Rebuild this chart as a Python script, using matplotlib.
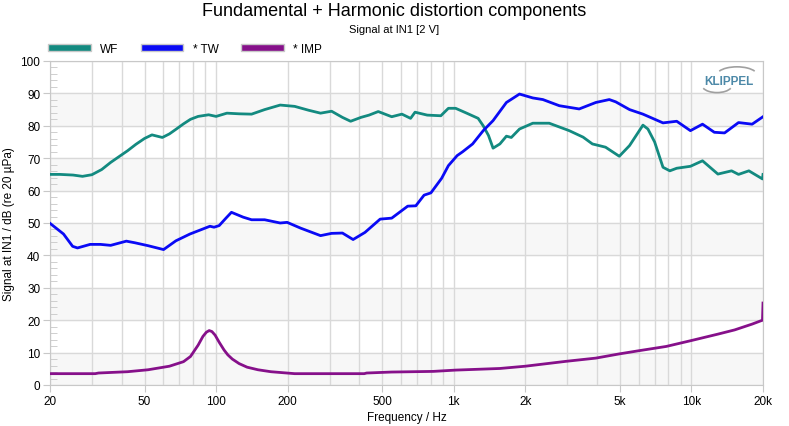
import numpy as np
import matplotlib.pyplot as plt
from matplotlib.patches import Patch, Arc
from matplotlib.ticker import FixedLocator, NullFormatter, MultipleLocator

plt.rcParams['font.family'] = ['Liberation Sans', 'DejaVu Sans']

# WF (woofer) fundamental
wf_f = [20, 22, 25, 27.4, 30, 33, 36, 42.4, 46, 50, 53.7, 59.4, 63.6, 68, 72.9, 78, 84, 93,
        100, 111, 125, 141, 160, 186, 214, 245, 275, 306, 340, 368, 407, 440, 481, 548, 605,
        658, 687, 773, 882, 949, 1018, 1133, 1266, 1330, 1400, 1463, 1563, 1665, 1746, 1890,
        2150, 2520, 3060, 3500, 3830, 4350, 4970, 5490, 6250, 6560, 7000, 7590, 8110, 8670,
        9900, 11130, 12920, 14750, 15780, 17440, 19900, 20000]
wf_db = [65.0, 65.0, 64.8, 64.4, 64.9, 66.5, 68.7, 72.3, 74.3, 76.1, 77.2, 76.4, 77.5, 79.0,
         80.6, 82.0, 82.9, 83.4, 82.9, 83.9, 83.7, 83.6, 85.0, 86.4, 86.0, 84.8, 83.9, 84.5,
         82.6, 81.4, 82.6, 83.3, 84.4, 82.8, 83.6, 82.3, 84.2, 83.3, 83.1, 85.4, 85.4, 83.9,
         82.3, 80.0, 77.0, 73.1, 74.4, 76.8, 76.4, 79.0, 80.8, 80.8, 78.5, 76.5, 74.4, 73.4,
         70.6, 73.9, 80.2, 79.0, 75.0, 67.2, 66.1, 66.9, 67.5, 69.2, 65.1, 66.1, 65.0, 66.1,
         63.6, 65.0]

# TW (tweeter)
tw_f = [20, 22.8, 24.9, 26.1, 29.5, 32.6, 36, 41.9, 45.5, 51.7, 60.1, 67.7, 77.6, 85.5, 94.2,
        98, 103, 110, 116, 130, 141, 160, 186, 199, 227, 275, 306, 340, 377, 423, 490, 548,
        640, 692, 750, 801, 843, 889, 949, 1033, 1090, 1200, 1330, 1463, 1665, 1890, 2150,
        2370, 2780, 3370, 3960, 4510, 4800, 5490, 6250, 7590, 8670, 9900, 11130, 12480,
        13780, 15780, 18000, 20000]
tw_db = [49.9, 46.6, 42.8, 42.3, 43.4, 43.4, 43.1, 44.4, 43.9, 43.0, 41.8, 44.5, 46.6, 47.8,
         49.0, 48.7, 49.2, 51.5, 53.3, 51.8, 51.0, 51.0, 50.0, 50.2, 48.4, 46.1, 46.8, 46.9,
         44.9, 47.1, 51.2, 51.5, 55.2, 55.3, 58.6, 59.3, 61.5, 63.8, 67.7, 70.8, 72.0, 74.4,
         78.5, 81.6, 87.2, 89.8, 88.6, 88.1, 86.2, 85.2, 87.2, 88.1, 87.4, 85.0, 83.6, 80.9,
         81.4, 78.5, 80.5, 78.0, 77.8, 81.0, 80.5, 82.8]

# IMP
imp_f = [20, 31, 32, 42.4, 51.7, 63.6, 72.9, 78, 84, 88, 91, 93.5, 96, 99, 103, 108, 112,
         117, 125, 135, 150, 170, 214, 420, 430, 547, 820, 1018, 1563, 2000, 2960, 3960,
         4970, 6030, 7830, 9960, 12920, 15190, 18000, 19900, 20000]
imp_db = [3.5, 3.5, 3.7, 4.1, 4.7, 5.8, 7.2, 8.8, 12.3, 15.0, 16.3, 16.8, 16.5, 15.4, 13.2,
          10.8, 9.3, 8.0, 6.6, 5.5, 4.7, 4.1, 3.5, 3.5, 3.7, 4.0, 4.2, 4.6, 5.1, 5.8, 7.3,
          8.3, 9.6, 10.6, 11.9, 13.7, 15.7, 17.0, 18.8, 20.0, 25.3]

x_ticks = [20, 50, 100, 200, 500, 1000, 2000, 5000, 10000, 20000]
x_labels = ['20', '50', '100', '200', '500', '1k', '2k', '5k', '10k', '20k']

c_wf = '#138a80'
c_tw = '#0a0af5'
c_imp = '#86108a'

fig = plt.figure(figsize=(7.89, 4.27), dpi=100)
ax = fig.add_axes([50/789, 41/427, 713/789, 324/427])

for lo in range(0, 100, 20):
    ax.axhspan(lo, lo + 10, color='#f7f7f7', zorder=0)

ax.plot(wf_f, wf_db, color=c_wf, lw=2, zorder=3)
ax.plot(tw_f, tw_db, color=c_tw, lw=2, zorder=3)
ax.plot(imp_f, imp_db, color=c_imp, lw=2, zorder=3)

ax.set_xscale('log')
ax.set_xlim(20, 20000)
ax.set_ylim(0, 100)
ax.set_xticks(x_ticks)
ax.set_xticklabels(x_labels)
minor_x = [m * 10**d for d in range(1, 5) for m in range(2, 10) if 20 <= m * 10**d <= 20000]
ax.xaxis.set_minor_locator(FixedLocator(minor_x))
ax.xaxis.set_minor_formatter(NullFormatter())
ax.yaxis.set_major_locator(MultipleLocator(10))
ax.yaxis.set_minor_locator(MultipleLocator(2))

ax.grid(which='major', color='#d9d9d9', lw=1)
ax.grid(which='minor', axis='x', color='#d9d9d9', lw=1)
ax.set_axisbelow(True)
ax.tick_params(axis='both', which='major', length=5, color='#c8c8c8', labelsize=8.5, pad=2)
ax.tick_params(axis='x', which='minor', length=0)
ax.tick_params(axis='y', which='minor', direction='in', length=5, color='#c8c8c8')
for s in ax.spines.values():
    s.set_color('#c8c8c8')

ax.set_xlabel('Frequency / Hz', fontsize=8.5, labelpad=3)
ax.set_ylabel('Signal at IN1 / dB (re 20 µPa)', fontsize=8.5, labelpad=4)

fig.text(0.5, 1 - 12/427, 'Fundamental + Harmonic distortion components', ha='center',
         va='center', fontsize=13)
fig.text(0.5, 1 - 30/427, 'Signal at IN1 [2 V]', ha='center', va='center', fontsize=8)

handles = [Patch(facecolor=c, edgecolor='#c8c8c8', lw=1) for c in (c_wf, c_tw, c_imp)]
fig.legend(handles, ['WF', '* TW', '* IMP'], loc='center left',
           bbox_to_anchor=(48/789, 1 - 50/427), ncol=3, frameon=False, fontsize=8.5,
           handlelength=3.6, handleheight=0.55, handletextpad=0.8, columnspacing=1.9,
           borderpad=0, borderaxespad=0)

# KLIPPEL logo
ax.text(0.952, 0.937, 'KLIPPEL', transform=ax.transAxes, ha='center', va='center',
        fontsize=8.5, fontweight='bold', color='#4d89a8', zorder=5)
ax.add_patch(Arc((0.9635, 0.957), 0.056, 0.05, theta1=25, theta2=155,
                 transform=ax.transAxes, color='#a0a0a0', lw=1.2, zorder=5))
ax.add_patch(Arc((0.9355, 0.925), 0.042, 0.045, theta1=205, theta2=335,
                 transform=ax.transAxes, color='#a0a0a0', lw=1.2, zorder=5))

fig.savefig('out.png', dpi=100)
